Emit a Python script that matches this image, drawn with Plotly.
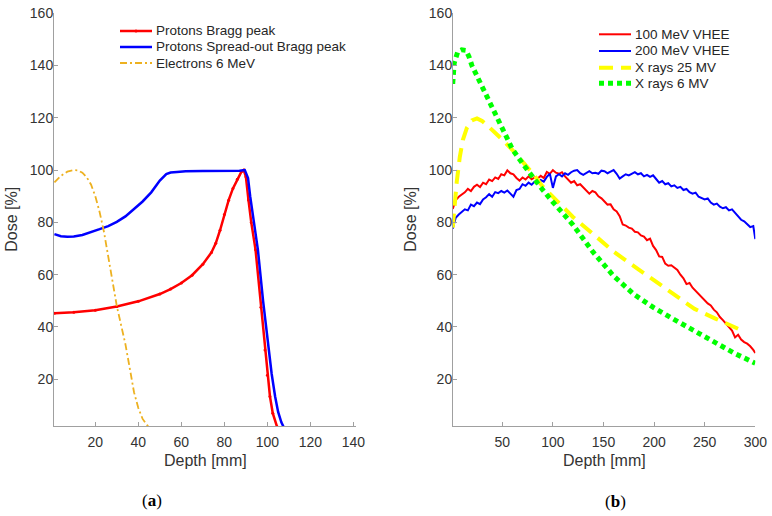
import plotly.graph_objects as go

# ---------------- Panel (a) data ----------------
bragg_depth = [1, 10, 20, 30, 40, 50, 55, 60, 65, 70, 74, 76, 78, 80, 82, 84, 86, 88, 89, 90,
               91.2, 92.5, 94.5, 97, 98.9, 100, 101.2, 102.5, 104.5]
bragg_dose = [45.2, 45.6, 46.4, 47.8, 49.8, 52.6, 54.5, 56.8, 59.8, 64, 68.5, 72, 77, 83, 88.5, 93, 96.5, 99.5, 100, 97.5,
              88.6, 80, 69.5, 47.5, 31.2, 21.5, 13.4, 7, 1.8]

sobp_depth = [1, 4, 7, 10, 14, 18, 22, 26, 30, 34, 38, 42, 46, 50, 53, 55, 58, 62, 70, 80, 87, 89.5,
              91, 92, 93.5, 95.6, 98, 100.5, 102, 103.6, 105, 106.5, 107.5]
sobp_dose = [75.5, 74.7, 74.5, 74.6, 75.2, 76.2, 77.4, 78.6, 80.2, 82.3, 85, 88, 91.5, 96, 98.5, 99.1, 99.3, 99.6, 99.7, 99.7, 99.8, 100,
             97, 90, 82, 69.5, 50, 31.2, 22, 13.4, 7.5, 3.5, 1.8]

elec_depth = [1, 4, 7, 10, 12, 14, 16, 18, 20, 22, 24, 26, 28, 30, 32, 34, 36, 38, 40, 42, 44, 45]
elec_dose = [95.3, 97.8, 99.4, 100, 99.9, 99, 97.3, 94.5, 90, 84, 76.5, 67, 57.5, 48, 40.7, 33.4, 24.3, 15, 9, 4.8, 2.5, 1.8]

# ---------------- Panel (b) data ----------------
vhee_depth = [1, 4, 7, 10, 13, 16, 19, 22, 25, 28,
              31, 34, 37, 40, 43, 46, 49, 52, 55, 58,
              61, 64, 67, 70, 73, 76, 79, 82, 85, 88,
              91, 94, 97, 100, 103, 106, 109, 112, 115, 118,
              121, 124, 127, 130, 133, 136, 139, 142, 145, 148,
              151, 154, 157, 160, 163, 166, 169, 172, 175, 178,
              181, 184, 187, 190, 193, 196, 199, 202, 205, 208,
              211, 214, 217, 220, 223, 226, 229, 232, 235, 238,
              241, 244, 247, 250, 253, 256, 259, 262, 265, 268,
              271, 274, 277, 280, 283, 286, 289, 292, 295, 298,
              300]
vhee100_dose = [85.2, 88.5, 89.8, 90.6, 91.5, 92.8, 92.0, 93.6, 94.4, 93.5,
                95.2, 94.6, 96.4, 95.8, 97.2, 96.6, 98.4, 98.0, 99.9, 98.8,
                98.4, 97.0, 96.0, 97.2, 96.4, 97.6, 96.5, 97.2, 96.8, 97.8,
                97.0, 99.3, 98.6, 100.0, 99.0, 98.6, 99.2, 97.6, 96.4, 95.2,
                95.8, 94.2, 94.6, 93.5, 92.2, 91.0, 92.0, 91.5, 90.0, 89.2,
                88.0, 86.8, 86.9, 85.0, 84.2, 82.4, 79.2, 78.8, 78.0, 77.6,
                76.4, 76.2, 75.0, 74.6, 73.2, 73.8, 71.0, 69.4, 67.0, 66.8,
                64.2, 63.4, 63.6, 62.6, 61.8, 60.0, 58.6, 56.4, 56.8, 55.0,
                53.8, 52.6, 51.4, 50.0, 49.0, 48.2, 46.6, 45.6, 43.8, 42.6,
                41.4, 39.8, 38.6, 36.0, 37.0, 35.2, 34.2, 33.6, 32.6, 31.2,
                30.0]
vhee200_dose = [77.6, 81.8, 83.0, 84.2, 85.0, 84.6, 86.8, 86.2, 87.6, 87.0,
                88.8, 89.6, 90.8, 89.8, 91.6, 91.2, 92.0, 91.4, 92.2, 91.0,
                89.8, 92.4, 92.8, 94.6, 94.0, 95.2, 94.4, 95.6, 95.0, 96.2,
                95.6, 97.4, 98.6, 93.2, 97.6, 98.4, 97.6, 98.8, 98.2, 99.2,
                99.8, 100.0, 98.8, 98.2, 99.0, 99.6, 98.8, 99.0, 98.6, 99.8,
                99.6, 98.8, 99.4, 100.0, 98.6, 96.8, 97.6, 98.4, 98.0, 98.6,
                99.2, 98.4, 98.8, 97.6, 98.2, 97.4, 98.0, 96.6, 95.2, 95.8,
                94.6, 95.0, 93.8, 94.2, 93.2, 93.6, 92.4, 92.8, 91.6, 91.0,
                91.4, 89.8, 89.4, 88.8, 89.2, 87.6, 86.8, 87.2, 86.0, 85.4,
                85.8, 84.6, 85.0, 83.6, 82.6, 81.0, 80.4, 79.4, 78.2, 78.6,
                73.6]

x25_depth = [1, 3, 5, 8, 11, 15, 20, 25, 30, 35, 40, 50, 60, 70, 80, 90, 100, 110, 120, 140,
             160, 180, 200, 220, 240, 260, 280, 290]
x25_dose = [78, 88, 95.5, 105, 111.5, 116.2, 119, 119.8, 118.8, 117.2, 115.5, 111.7, 107.7, 103.2, 98.8, 93.7, 89.8, 85.8, 82, 75.5,
            68.8, 63.3, 57.8, 52.3, 46.9, 43.3, 39.8, 38.1]

x6_depth = [1, 2.5, 6, 10, 14, 17, 20, 25, 30, 35, 40, 50, 60, 70, 80, 90, 100, 110, 120, 140,
            160, 180, 200, 220, 240, 260, 280, 300]
x6_dose = [133, 141, 145.3, 146, 145.8, 143.5, 140, 136, 131, 127, 123.5, 115.5, 108, 102.5, 97.2, 92.4, 87.8, 83.5, 79, 68.5,
           59.5, 52.5, 47.3, 42.8, 38.5, 34, 29.8, 26.1]

y_ticks = [20, 40, 60, 80, 100, 120, 140, 160]
xa_ticks = [20, 40, 60, 80, 100, 120, 140]
xb_ticks = [50, 100, 150, 200, 250, 300]

legend_a = ["Protons Bragg peak", "Protons Spread-out Bragg peak", "Electrons 6 MeV"]
legend_b = ["100 MeV VHEE", "200 MeV VHEE", "X rays 25 MV", "X rays 6 MV"]

W, H = 772, 516
FONT = "Liberation Sans, Arial, sans-serif"
TXT = "#333333"
AX = "#a0a0a0"

RED, BLUE, ORANGE, YELLOW, GREEN = "#ff0000", "#0000ff", "#EDB120", "#ffff00", "#00ff00"
styles_a = [dict(color=RED, width=2.5), dict(color=BLUE, width=2.5), dict(color=ORANGE, width=1.8, dash="7px,3px,2px,3px")]
styles_b = [dict(color=RED, width=2), dict(color=BLUE, width=2), dict(color=YELLOW, width=4, dash="14px,8px"),
            dict(color=GREEN, width=5, dash="5px,4px")]

fig = go.Figure()

fig.add_trace(go.Scatter(x=bragg_depth, y=bragg_dose, mode="lines+markers", name=legend_a[0],
                         line=styles_a[0], marker=dict(size=3, color=RED), xaxis="x", yaxis="y"))
fig.add_trace(go.Scatter(x=sobp_depth, y=sobp_dose, mode="lines", name=legend_a[1],
                         line=styles_a[1], xaxis="x", yaxis="y"))
fig.add_trace(go.Scatter(x=elec_depth, y=elec_dose, mode="lines", name=legend_a[2],
                         line=styles_a[2], xaxis="x", yaxis="y"))

fig.add_trace(go.Scatter(x=vhee_depth, y=vhee100_dose, mode="lines", name=legend_b[0],
                         line=styles_b[0], xaxis="x2", yaxis="y2"))
fig.add_trace(go.Scatter(x=vhee_depth, y=vhee200_dose, mode="lines", name=legend_b[1],
                         line=styles_b[1], xaxis="x2", yaxis="y2"))
fig.add_trace(go.Scatter(x=x25_depth, y=x25_dose, mode="lines", name=legend_b[2],
                         line=styles_b[2], xaxis="x2", yaxis="y2"))
fig.add_trace(go.Scatter(x=x6_depth, y=x6_dose, mode="lines", name=legend_b[3],
                         line=styles_b[3], xaxis="x2", yaxis="y2"))


def px_x(p):
    return p / W


def px_y(p):
    return 1 - p / H


axis_common = dict(showline=True, linecolor=AX, linewidth=1, ticks="inside", ticklen=4, tickcolor=AX,
                   showgrid=False, zeroline=False, ticklabeloverflow="allow", automargin=False,
                   tickfont=dict(family=FONT, size=14, color=TXT))

fig.update_layout(
    width=W, height=H, margin=dict(l=0, r=0, t=0, b=0, autoexpand=False),
    paper_bgcolor="white", plot_bgcolor="white",
    font=dict(family=FONT, color=TXT),
    showlegend=False,
    xaxis=dict(domain=[px_x(54), px_x(356)], range=[0.8, 141.2], tickvals=xa_ticks, anchor="y",
               ticklabelstandoff=3, **axis_common),
    yaxis=dict(domain=[px_y(426), px_y(13.3)], range=[2.1, 160], tickvals=y_ticks, anchor="x",
               ticklabelstandoff=-3, **axis_common),
    xaxis2=dict(domain=[px_x(453), px_x(755.3)], range=[1.3, 300], tickvals=xb_ticks, anchor="y2",
                ticklabelstandoff=3, **axis_common),
    yaxis2=dict(domain=[px_y(426), px_y(13.3)], range=[2.1, 160], tickvals=y_ticks, anchor="x2",
                ticklabelstandoff=-3, **axis_common),
)

ann = [
    dict(text="Depth [mm]", x=px_x(205), y=px_y(460), font=dict(size=16)),
    dict(text="Depth [mm]", x=px_x(604), y=px_y(460), font=dict(size=16)),
    dict(text="Dose [%]", x=px_x(12), y=px_y(219.7), textangle=-90, font=dict(size=16)),
    dict(text="Dose [%]", x=px_x(411), y=px_y(219.7), textangle=-90, font=dict(size=16)),
    dict(text="(<b>a</b>)", x=px_x(152), y=px_y(500), font=dict(size=17, family="Liberation Serif, Times New Roman, serif", color="#000")),
    dict(text="(<b>b</b>)", x=px_x(615), y=px_y(501), font=dict(size=17, family="Liberation Serif, Times New Roman, serif", color="#000")),
]

shapes = []
# manual legends (paper coordinates)
rows_a = [31, 47, 63]
for name, st, ry in zip(legend_a, styles_a, rows_a):
    shapes.append(dict(type="line", xref="paper", yref="paper", x0=px_x(120), x1=px_x(152),
                       y0=px_y(ry), y1=px_y(ry), line=dict(color=st["color"], width=st["width"], dash=st.get("dash", "solid"))))
    ann.append(dict(text=name, x=px_x(154), y=px_y(ry), xanchor="left", font=dict(size=13.5, color="#262626")))
shapes.append(dict(type="circle", xref="paper", yref="paper", x0=px_x(134.5), x1=px_x(137.5),
                   y0=px_y(32.5), y1=px_y(29.5), fillcolor=RED, line=dict(width=0)))

rows_b = [34.3, 51, 67.7, 83.3]
for name, st, ry in zip(legend_b, styles_b, rows_b):
    shapes.append(dict(type="line", xref="paper", yref="paper", x0=px_x(599), x1=px_x(631),
                       y0=px_y(ry), y1=px_y(ry), line=dict(color=st["color"], width=st["width"], dash=st.get("dash", "solid"))))
    ann.append(dict(text=name, x=px_x(633), y=px_y(ry), xanchor="left", font=dict(size=13.5, color="#262626")))

for a in ann:
    a.update(xref="paper", yref="paper", showarrow=False, yanchor="middle")
    a.setdefault("xanchor", "center")
    a["font"].setdefault("family", FONT)
    a["font"].setdefault("color", TXT)
fig.update_layout(annotations=ann, shapes=shapes)

fig.write_html("out.html", config={"responsive": False, "displayModeBar": False},
               post_script="document.body.style.margin='0';document.body.style.overflow='hidden';")
